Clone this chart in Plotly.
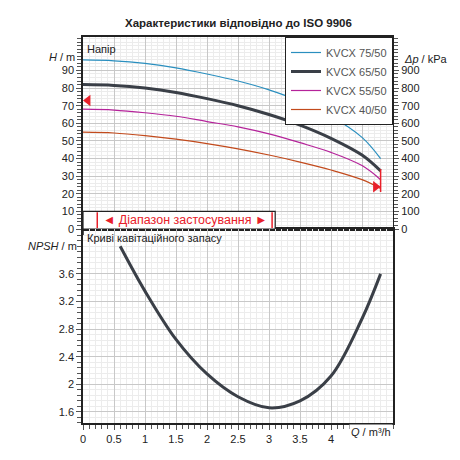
import plotly.graph_objects as go

Q = [0, 0.5, 1, 1.5, 2, 2.5, 3, 3.5, 4, 4.5, 4.8]
H75 = [96, 95.5, 94, 91.5, 88, 84, 79, 72.5, 64, 52, 40]
H65 = [82, 81.5, 80, 77.5, 74, 70, 65, 59, 51.5, 42, 33]
H55 = [68, 67.5, 66, 64, 61, 58, 54, 49, 43.5, 36, 28]
H40 = [55, 54.5, 53, 51, 48.5, 45.5, 42, 38, 33.5, 28, 23]
QN = [0.6, 1, 1.5, 2, 2.5, 3, 3.5, 4, 4.5, 4.8]
NPSH = [4.0, 3.35, 2.65, 2.15, 1.82, 1.66, 1.76, 2.12, 2.95, 3.6]
names = ["KVCX 75/50", "KVCX 65/50", "KVCX 55/50", "KVCX 40/50"]
colors = ["#2a8fbf", "#3a3f47", "#b5239a", "#c24a1c"]
widths = [1.2, 3, 1.2, 1.2]

fig = go.Figure()
for n, h, c, w in zip(names, [H75, H65, H55, H40], colors, widths):
    fig.add_trace(go.Scatter(x=Q, y=h, name=n, mode="lines", line=dict(color=c, width=w, shape="spline"),
                             xaxis="x", yaxis="y"))
fig.add_trace(go.Scatter(x=QN, y=NPSH, mode="lines", showlegend=False, line=dict(color="#3a3f47", width=3, shape="spline"),
                         xaxis="x2", yaxis="y3"))
fig.add_trace(go.Scatter(x=[0], y=[0], showlegend=False, mode="markers", marker=dict(opacity=0), xaxis="x", yaxis="y2"))
fig.add_trace(go.Scatter(x=[0.08], y=[73], mode="markers", showlegend=False,
                         marker=dict(symbol="triangle-left", color="#e8202a", size=10), xaxis="x", yaxis="y"))
fig.add_trace(go.Scatter(x=[4.72], y=[24], mode="markers", showlegend=False,
                         marker=dict(symbol="triangle-right", color="#e8202a", size=10), xaxis="x", yaxis="y"))
fig.add_trace(go.Scatter(x=[4.8, 4.8], y=[21, 34], mode="lines", showlegend=False,
                         line=dict(color="#e8202a", width=1.5), xaxis="x", yaxis="y"))

grid = dict(showgrid=True, gridcolor="#c8c8c8", gridwidth=1, showline=True, linecolor="#222", linewidth=1.5,
            ticks="outside", tickcolor="#555", tickfont=dict(size=11, color="#222"), zeroline=False)
minorx = dict(dtick=0.1, showgrid=True, gridcolor="#ececec", ticks="outside", ticklen=4, tickcolor="#555")
D = 0.5026
fig.update_layout(
    width=460, height=460, paper_bgcolor="white", plot_bgcolor="white",
    margin=dict(l=75, r=75, t=29, b=45), font=dict(family="Liberation Sans", color="#222"),
    xaxis=dict(range=[0, 5], dtick=0.5, showticklabels=False, anchor="y", mirror=True, minor=minorx, **grid),
    xaxis2=dict(range=[0, 5], dtick=0.5, anchor="y3", mirror=True, minor=minorx, tickvals=[0,0.5,1,1.5,2,2.5,3,3.5,4],
                ticktext=["0","0.5","1","1.5","2","2.5","3","3.5","4"], **grid),
    yaxis=dict(domain=[D, 1], range=[0, 109], tickvals=list(range(0, 100, 10)),
               minor=dict(dtick=2, showgrid=True, gridcolor="#ececec", ticks="outside", ticklen=4), **grid),
    yaxis2=dict(domain=[D, 1], range=[0, 1090], tickvals=list(range(0, 1000, 100)), overlaying="y", side="right", anchor="x",
                showgrid=False, showline=True, linecolor="#222", ticks="outside", tickcolor="#555",
                minor=dict(dtick=20, ticks="outside", ticklen=4), tickfont=dict(size=11, color="#222")),
    yaxis3=dict(domain=[0, D], range=[1.44, 4.25], tickvals=[1.6, 2, 2.4, 2.8, 3.2, 3.6], ticktext=["1.6","2","2.4","2.8","3.2","3.6"],
                anchor="x2", mirror=True, minor=dict(dtick=0.08, showgrid=True, gridcolor="#ececec", ticks="outside", ticklen=4), **grid),
    legend=dict(x=1, y=1, xanchor="right", yanchor="top", bgcolor="white", bordercolor="#222", borderwidth=1,
                font=dict(size=11, color="#555"), tracegroupgap=0, itemwidth=30),
    shapes=[dict(type="rect", xref="x", yref="y", x0=0, x1=3.1, y0=0, y1=10, line=dict(color="#222", width=1.2), fillcolor="white", layer="above"),
            dict(type="line", xref="x", yref="y", x0=0.23, x1=0.23, y0=0.5, y1=9.5, line=dict(color="#e8202a", width=1.5)),
            dict(type="line", xref="x", yref="y", x0=3.05, x1=3.05, y0=0.5, y1=9.5, line=dict(color="#e8202a", width=1.5))],
    annotations=[
        dict(text="<b>Характеристики відповідно до ISO 9906</b>", x=0.5, y=1, xref="paper", yref="paper", yshift=22,
             showarrow=False, font=dict(size=11.5)),
        dict(text="Напір", x=0.03, y=107, xref="x", yref="y", xanchor="left", yanchor="top", showarrow=False, font=dict(size=11)),
        dict(text="◄ Діапазон застосування ►", x=1.65, y=5, xref="x", yref="y", showarrow=False, font=dict(size=12.5, color="#e8202a")),
        dict(text="Криві кавітаційного запасу", x=0.03, y=4.24, xref="x2", yref="y3", xanchor="left", yanchor="top", showarrow=False, font=dict(size=11)),
        dict(text="<i>H</i> / m", x=0, y=1, xref="paper", yref="paper", xanchor="right", xshift=-6, yshift=-12, showarrow=False, font=dict(size=11)),
        dict(text="<i>Δp</i> / kPa", x=1, y=1, xref="paper", yref="paper", xanchor="left", xshift=9, yshift=-14, showarrow=False, font=dict(size=11)),
        dict(text="<i>NPSH</i> / m", x=0, y=4.0, xref="paper", yref="y3", xanchor="right", xshift=-4, showarrow=False, font=dict(size=11)),
        dict(text="<i>Q</i> / m³/h", x=5, y=0, xref="x2", yref="paper", xanchor="right", yshift=-17, showarrow=False,
             font=dict(size=11), bgcolor="white"),
    ],
)
fig.write_html("out.html")
